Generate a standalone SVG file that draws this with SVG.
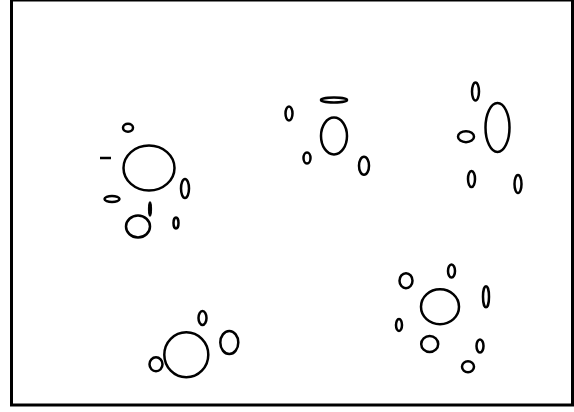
<svg xmlns="http://www.w3.org/2000/svg" width="574" height="412" viewBox="0 0 574 412">
<style>
.e{fill:none;stroke:#000;stroke-width:2.5}
.f{fill:#000;stroke:#000;stroke-width:1}
</style>
<rect x="0" y="0" width="574" height="412" fill="#fff"/>
<rect x="11.5" y="0" width="561" height="405" fill="none" stroke="#000" stroke-width="3"/>
<g id="cluster1">
<ellipse class="e" cx="128" cy="127.7" rx="5" ry="4"/>
<line x1="100" y1="158" x2="111" y2="158" stroke="#000" stroke-width="2.5"/>
<ellipse class="e" cx="149" cy="168" rx="25.5" ry="22.5"/>
<ellipse class="e" cx="185" cy="188.5" rx="4" ry="9.5"/>
<ellipse class="e" cx="112" cy="199" rx="7.5" ry="3"/>
<ellipse class="e" cx="138" cy="226.5" rx="12" ry="11"/>
<ellipse class="f" cx="150" cy="209" rx="1.6" ry="7.5"/>
<ellipse class="e" cx="176" cy="223" rx="2.5" ry="5.5"/>
</g>
<g id="cluster2">
<ellipse class="e" cx="334" cy="100" rx="13" ry="2.5"/>
<ellipse class="e" cx="289" cy="113.5" rx="3.5" ry="7"/>
<ellipse class="e" cx="334" cy="136" rx="13" ry="18.5"/>
<ellipse class="e" cx="307" cy="158" rx="3.5" ry="5.5"/>
<ellipse class="e" cx="364" cy="165.7" rx="5" ry="9"/>
</g>
<g id="cluster3">
<ellipse class="e" cx="475.5" cy="91.5" rx="3.5" ry="9"/>
<ellipse class="e" cx="497.5" cy="127.5" rx="12" ry="24.5"/>
<ellipse class="e" cx="466" cy="136.7" rx="8" ry="5.5"/>
<ellipse class="e" cx="471.5" cy="179" rx="3.5" ry="8"/>
<ellipse class="e" cx="518" cy="184" rx="3.5" ry="9"/>
</g>
<g id="cluster4">
<ellipse class="e" cx="406" cy="280.7" rx="6.5" ry="7.5"/>
<ellipse class="e" cx="451.5" cy="271" rx="3.5" ry="6.5"/>
<ellipse class="e" cx="486" cy="296.7" rx="3" ry="10.5"/>
<ellipse class="e" cx="440" cy="306.7" rx="19" ry="17.5"/>
<ellipse class="e" cx="399" cy="325" rx="3" ry="6"/>
<ellipse class="e" cx="429.7" cy="344" rx="8.5" ry="8"/>
<ellipse class="e" cx="480" cy="346" rx="3.5" ry="6.5"/>
<ellipse class="e" cx="468" cy="366.7" rx="6" ry="5.5"/>
</g>
<g id="cluster5">
<ellipse class="e" cx="202.5" cy="318" rx="4" ry="7"/>
<ellipse class="e" cx="229.3" cy="342.5" rx="9" ry="11.5"/>
<ellipse class="e" cx="186.3" cy="354.7" rx="22" ry="22.5"/>
<ellipse class="e" cx="156" cy="364.3" rx="6.5" ry="7"/>
</g>
</svg>
